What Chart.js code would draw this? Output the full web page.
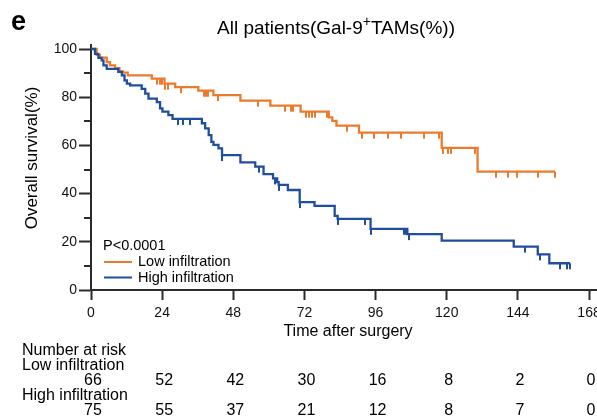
<!DOCTYPE html>
<html><head><meta charset="utf-8">
<script src="https://cdn.jsdelivr.net/npm/chart.js@4.4.1/dist/chart.umd.min.js"></script>
<style>
html,body{margin:0;padding:0;overflow:hidden;background:#fff;width:597px;height:417px}
#wrap{position:absolute;left:0;top:0;width:640px;height:417px}
</style>
</head><body><div id="wrap"><canvas id="c" width="640" height="417"></canvas></div>
<script>
// ---- data ----
const lowTimes = [0, 1.9, 3.0, 5.3, 6.4, 8.1, 9.6, 10.8, 12.4, 20.5, 24.8, 28.4, 36.2, 41.3, 50.4, 60.5, 70.7, 80.2, 81.4, 82.8, 90.4, 118.3, 130.4, 156.5];
const lowSurv  = [100, 97.6, 96.4, 94.6, 93.2, 92.1, 90.7, 90.2, 89.1, 87.7, 85.6, 84.2, 82.7, 80.9, 78.6, 76.5, 74.0, 71.6, 70.2, 68.2, 65.3, 59.0, 49.1, 49.1];
const lowCensor = [22.1, 23.3, 24.1, 25.0, 26.0, 30.4, 38.0, 38.8, 39.4, 43.0, 56.3, 65.4, 67.3, 68.3, 72.4, 73.4, 74.5, 75.5, 79.7, 86.4, 91.5, 95.4, 100.2, 104.5, 112.3, 117.4, 118.9, 120.5, 121.4, 129.5, 136.6, 140.5, 143.7, 150.7, 156.5];

const highTimes = [0, 1.35, 2.5, 3.6, 4.2, 5.3, 9.2, 10.4, 11.3, 12.1, 13.2, 17.1, 18.3, 19.4, 22.2, 23.3, 24.1, 26.1, 27.5, 37.4, 38.5, 39.7, 40.6, 41.3, 43.0, 44.2, 50.4, 55.4, 58.2, 61.4, 62.8, 63.3, 66.4, 70.4, 75.4, 82.2, 83.2, 94.3, 106.7, 118.3, 142.6, 150.7, 154.6, 161.6];
const highSurv  = [100, 98.0, 96.3, 95.3, 93.2, 91.8, 90.5, 89.1, 87.0, 85.6, 84.9, 83.5, 81.5, 79.4, 78.0, 75.4, 74.0, 72.6, 71.0, 69.2, 67.1, 64.3, 61.5, 60.2, 58.8, 56.0, 53.0, 51.2, 48.1, 46.3, 44.8, 43.6, 41.5, 36.5, 34.9, 30.8, 29.5, 25.4, 23.2, 20.5, 18.0, 14.8, 11.1, 11.1];
const highCensor = [29.5, 31.2, 33.5, 44.2, 56.6, 62.2, 63.3, 70.6, 83.4, 92.3, 94.5, 105.6, 106.2, 107.3, 146.5, 151.5, 158.3, 160.5, 161.6];

const xTickValues = [0, 24, 48, 72, 96, 120, 144, 168];
const yTickValues = [0, 20, 40, 60, 80, 100];
const yMinorTicks = [10, 30, 50, 70, 90];
const lowRisk  = [66, 52, 42, 30, 16, 8, 2, 0];
const highRisk = [75, 55, 37, 21, 12, 8, 7, 0];

const seriesNames = ['Low infiltration', 'High infiltration'];
const pValueText = 'P<0.0001';

// ---- styling ----
const ORANGE = '#EC7A2C';
const BLUE = '#1F4E9F';
const AXIS = '#2b2b2b';
const FONT = "'Liberation Sans', Arial, Helvetica, sans-serif";
Chart.defaults.font.family = FONT;

function survAt(times, surv, t) {
  let v = surv[0];
  for (let i = 0; i < times.length; i++) { if (times[i] <= t) v = surv[i]; }
  return v;
}
function censorMark(color) {
  const c = document.createElement('canvas');
  c.width = 2; c.height = 14;
  const g = c.getContext('2d');
  g.fillStyle = color;
  g.fillRect(0, 7, 2, 6);
  return c;
}

const textPlugin = {
  id: 'texts',
  afterDraw(chart) {
    const ctx = chart.ctx;
    const xs = chart.scales.x, ys = chart.scales.y;
    ctx.save();
    // minor y ticks
    ctx.strokeStyle = AXIS; ctx.lineWidth = 2;
    yMinorTicks.forEach(v => {
      const py = Math.round(ys.getPixelForValue(v));
      ctx.beginPath(); ctx.moveTo(xs.left - 7, py); ctx.lineTo(xs.left, py); ctx.stroke();
    });
    ctx.fillStyle = '#000';
    // panel letter
    ctx.font = 'bold 27px ' + FONT;
    ctx.textBaseline = 'alphabetic'; ctx.textAlign = 'left';
    ctx.fillText('e', 11, 30);
    // title with superscript
    const t1 = 'All patients(Gal-9', sup = '+', t2 = 'TAMs(%))';
    ctx.font = '19px ' + FONT; const w1 = ctx.measureText(t1).width, w3 = ctx.measureText(t2).width;
    ctx.font = '14px ' + FONT; const w2 = ctx.measureText(sup).width;
    let tx = 336 - (w1 + w2 + w3) / 2;
    ctx.font = '19px ' + FONT; ctx.fillText(t1, tx, 34); tx += w1;
    ctx.font = '14px ' + FONT; ctx.fillText(sup, tx, 26); tx += w2;
    ctx.font = '19px ' + FONT; ctx.fillText(t2, tx, 34);
    // y title
    ctx.font = '17px ' + FONT; ctx.textAlign = 'center'; ctx.textBaseline = 'middle';
    ctx.save(); ctx.translate(32, 158); ctx.rotate(-Math.PI / 2);
    ctx.fillText('Overall survival(%)', 0, 0); ctx.restore();
    // x title
    ctx.font = '16px ' + FONT;
    ctx.fillText('Time after surgery', 348, 332);
    // legend
    ctx.textAlign = 'left';
    ctx.font = '14.5px ' + FONT;
    ctx.fillText(pValueText, 103, 246);
    [[ORANGE, 262], [BLUE, 277.5]].forEach(([col, y], i) => {
      ctx.strokeStyle = col; ctx.lineWidth = 2;
      ctx.beginPath(); ctx.moveTo(104, y); ctx.lineTo(132, y); ctx.stroke();
      ctx.fillText(seriesNames[i], 138, y);
    });
    // risk table
    ctx.font = '16px ' + FONT;
    ctx.fillText('Number at risk', 22, 351);
    ctx.fillText(seriesNames[0], 22, 366);
    ctx.fillText(seriesNames[1], 22, 396);
    ctx.textAlign = 'center';
    xTickValues.forEach((v, i) => {
      const px = xs.getPixelForValue(v) + 2;
      ctx.fillText(String(lowRisk[i]), px, 381);
      ctx.fillText(String(highRisk[i]), px, 411);
    });
    ctx.restore();
  }
};

new Chart(document.getElementById('c'), {
  type: 'line',
  data: {
    datasets: [
      { label: seriesNames[1], data: highTimes.map((t, i) => ({ x: t, y: highSurv[i] })),
        borderColor: BLUE, borderWidth: 2.3, stepped: true, pointRadius: 0, fill: false },
      { label: seriesNames[0], data: lowTimes.map((t, i) => ({ x: t, y: lowSurv[i] })),
        borderColor: ORANGE, borderWidth: 2.3, stepped: true, pointRadius: 0, fill: false },
      { label: 'high censored', data: highCensor.map(t => ({ x: t, y: survAt(highTimes, highSurv, t) })),
        showLine: false, pointStyle: censorMark(BLUE), pointRadius: 4, borderColor: BLUE, backgroundColor: BLUE },
      { label: 'low censored', data: lowCensor.map(t => ({ x: t, y: survAt(lowTimes, lowSurv, t) })),
        showLine: false, pointStyle: censorMark(ORANGE), pointRadius: 4, borderColor: ORANGE, backgroundColor: ORANGE }
    ]
  },
  options: {
    responsive: false, animation: false,
    layout: { padding: { left: 0, top: 45.4, right: 39.1, bottom: 0 } },
    plugins: { legend: { display: false }, tooltip: { enabled: false }, title: { display: false } },
    scales: {
      x: {
        type: 'linear', min: 0, max: 172,
        afterBuildTicks: s => { s.ticks = xTickValues.map(v => ({ value: v })); },
        afterFit: s => { s.height = 127; },
        ticks: { font: { size: 14 }, color: '#111', padding: 5, maxRotation: 0, autoSkip: false },
        grid: { drawOnChartArea: false, tickLength: 10, tickColor: AXIS, tickWidth: 2 },
        border: { color: AXIS, width: 2 }
      },
      y: {
        min: 0, max: 101.5,
        afterBuildTicks: s => { s.ticks = yTickValues.map(v => ({ value: v })); },
        afterFit: s => { s.width = 91; },
        ticks: { font: { size: 14 }, color: '#111', padding: 2 },
        grid: { drawOnChartArea: false, tickLength: 12, tickColor: AXIS, tickWidth: 2 },
        border: { color: AXIS, width: 2 }
      }
    }
  },
  plugins: [textPlugin]
});
</script>
</body></html>
